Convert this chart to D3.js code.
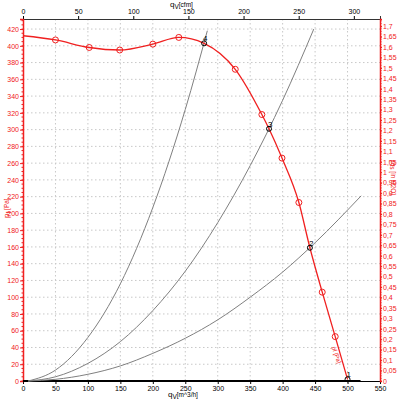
<!DOCTYPE html>
<html>
<head>
<meta charset="utf-8">
<script src="https://cdn.jsdelivr.net/npm/d3@7"></script>
<style>
  body { margin: 0; background: #fff; }
  text { font-family: "Liberation Sans", Arial, sans-serif; }
</style>
</head>
<body>
<div class="chart"></div>
<script>
"use strict"

// fan curve, q in m3/h, p in Pa
let fanQ = [0, 50, 102, 149, 200, 240, 279, 327, 368, 379, 399, 425, 442, 461, 481, 500];
let fanP = [412, 407, 398, 395, 402, 410, 403, 372, 318, 301, 266, 213, 159, 106, 53, 2];
// markers on the fan curve (red circles)
let markQ = [50, 102, 149, 200, 240, 327, 368, 399, 425, 461, 481];
let markP = [407, 398, 395, 402, 410, 372, 318, 266, 213, 106, 53];

// system curves (grey)
let sysAQ = [8, 50, 100, 150, 200, 250, 284];
let sysAP = [0, 13, 52, 116, 207, 324, 418];
let sysBQ = [8, 50, 100, 150, 200, 250, 300, 350, 400, 448];
let sysBP = [0, 5, 21, 47, 84, 131, 189, 257, 335, 420];
let sysCQ = [8, 50, 100, 150, 200, 250, 300, 350, 400, 450, 521];
let sysCP = [0, 2, 8, 18, 33, 51, 73, 100, 130, 165, 221];

// operating points
let opNames = ["1", "2", "3", "4"];
let opQ = [500, 442, 379, 279];
let opP = [2, 159, 301, 403];

let qTicks = [0, 50, 100, 150, 200, 250, 300, 350, 400, 450, 500, 550];
let cfmTicks = [0, 50, 100, 150, 200, 250, 300];
let paTicks = [0, 20, 40, 60, 80, 100, 120, 140, 160, 180, 200, 220, 240, 260, 280, 300, 320, 340, 360, 380, 400, 420];
let inTicks = [0, 0.05, 0.1, 0.15, 0.2, 0.25, 0.3, 0.35, 0.4, 0.45, 0.5, 0.55, 0.6, 0.65, 0.7, 0.75, 0.8, 0.85,
  0.9, 0.95, 1, 1.05, 1.1, 1.15, 1.2, 1.25, 1.3, 1.35, 1.4, 1.45, 1.5, 1.55, 1.6, 1.65, 1.7];

const RED = "#f02020";
let W = 400, H = 400;
let L = 23, R = 380, T = 19, B = 381;
let qMax = 550, pMax = 432;

let s = d3.select(".chart").append("svg")
  .attr("width", W).attr("height", H);

let x = d3.scaleLinear().domain([0, qMax]).range([L, R]);
let xc = d3.scaleLinear().domain([0, qMax * 0.588578]).range([L, R]);
let y = d3.scaleLinear().domain([0, pMax]).range([B, T]);
let yi = d3.scaleLinear().domain([0, pMax / 249.089]).range([B, T]);

// grid
s.append("g").selectAll("line")
  .data(qTicks.filter(d => d > 0 && d < qMax))
  .enter().append("line")
  .attr("x1", d => x(d)).attr("x2", d => x(d))
  .attr("y1", T).attr("y2", B)
  .attr("stroke", "#c8c8c8").attr("stroke-dasharray", "1.5,2.5");
s.append("g").selectAll("line")
  .data(paTicks.filter(d => d > 0))
  .enter().append("line")
  .attr("x1", L).attr("x2", R)
  .attr("y1", d => y(d)).attr("y2", d => y(d))
  .attr("stroke", "#c8c8c8").attr("stroke-dasharray", "1.5,2.5");

// bottom axis
let xa = s.append("g").attr("transform", "translate(0," + B + ")")
  .call(d3.axisBottom(x).tickValues(qTicks).tickSize(3).tickPadding(2));
xa.select(".domain").attr("stroke", "#000");
xa.selectAll("text").attr("font-size", 7).attr("fill", "#000");

// top axis
let ta = s.append("g").attr("transform", "translate(0," + T + ")")
  .call(d3.axisTop(xc).tickValues(cfmTicks).tickSize(3).tickPadding(2));
ta.select(".domain").attr("stroke", "#333");
ta.selectAll("text").attr("font-size", 7).attr("fill", "#000");

// left axis
let ya = s.append("g").attr("transform", "translate(" + L + ",0)")
  .call(d3.axisLeft(y).tickValues(paTicks).tickSize(3).tickPadding(1));
ya.select(".domain").attr("stroke", RED).attr("stroke-width", 1.5);
ya.selectAll("line").attr("stroke", RED);
ya.selectAll("text").attr("font-size", 7).attr("fill", RED);
s.append("g").selectAll("line")
  .data(d3.range(0, pMax, 5))
  .enter().append("line")
  .attr("x1", L - 1.5).attr("x2", L)
  .attr("y1", d => y(d)).attr("y2", d => y(d))
  .attr("stroke", RED);

// right axis
let ra = s.append("g").attr("transform", "translate(" + R + ",0)")
  .call(d3.axisRight(yi).tickValues(inTicks).tickSize(2).tickPadding(1)
    .tickFormat(d => d3.format("~g")(d).replace(".", ",")));
ra.select(".domain").attr("stroke", RED).attr("stroke-width", 1.5);
ra.selectAll("line").attr("stroke", RED);
ra.selectAll("text").attr("font-size", 7).attr("fill", RED);
s.append("g").selectAll("line")
  .data(d3.range(0, pMax / 249.089, 0.0125))
  .enter().append("line")
  .attr("x1", R).attr("x2", R + 1.5)
  .attr("y1", d => yi(d)).attr("y2", d => yi(d))
  .attr("stroke", RED);

// thick base line
s.append("line")
  .attr("x1", x(0)).attr("x2", x(520))
  .attr("y1", B).attr("y2", B)
  .attr("stroke", "#000").attr("stroke-width", 2);

// axis titles
function title(g, parts) {
  parts.forEach(function (p) {
    g.append("tspan").text(p[0])
      .attr("font-size", p[1] ? 6.5 : 8)
      .attr("dy", p[1] === 1 ? 1.5 : (p[1] === -1 ? -1.5 : 0));
  });
}
let t1 = s.append("text").attr("x", 170).attr("y", 7).attr("fill", "#000");
title(t1, [["q", 0], ["V", 1], ["[cfm]", -1]]);
let t2 = s.append("text").attr("x", 168).attr("y", 397).attr("fill", "#000");
title(t2, [["q", 0], ["V", 1], ["[m^3/h]", -1]]);
let t3 = s.append("text").attr("transform", "translate(9,218) rotate(-90)").attr("fill", RED);
title(t3, [["p", 0], ["f", 1], [" [Pa]", -1]]);
let t4 = s.append("text").attr("transform", "translate(391,160) rotate(90)").attr("fill", RED);
title(t4, [["p", 0], ["fs", 1], [" [in H2O]", -1]]);

// system curves
let line = d3.line().x(d => x(d[0])).y(d => y(d[1])).curve(d3.curveMonotoneX);
[[sysAQ, sysAP], [sysBQ, sysBP], [sysCQ, sysCP]].forEach(function (c) {
  s.append("path")
    .datum(c[0].map((q, i) => [q, c[1][i]]))
    .attr("d", line)
    .attr("fill", "none").attr("stroke", "#808080").attr("stroke-width", 1);
});

// fan curve
s.append("path")
  .datum(fanQ.map((q, i) => [q, fanP[i]]))
  .attr("d", line)
  .attr("fill", "none").attr("stroke", RED).attr("stroke-width", 1.3);

s.append("g").selectAll("circle")
  .data(markQ)
  .enter().append("circle")
  .attr("cx", d => x(d)).attr("cy", (d, i) => y(markP[i]))
  .attr("r", 3).attr("fill", "none").attr("stroke", RED);

// curve label
s.append("text")
  .attr("transform", "translate(" + (x(480) - 3) + "," + (y(40)) + ") rotate(70)")
  .attr("font-size", 6).attr("fill", RED).text("pf [Pa]");

// operating points
let op = s.append("g").selectAll("g")
  .data(opNames)
  .enter().append("g");
op.append("circle")
  .attr("cx", (d, i) => x(opQ[i])).attr("cy", (d, i) => y(opP[i]))
  .attr("r", 2.5).attr("fill", "none").attr("stroke", "#000").attr("stroke-width", 1);
op.append("text")
  .attr("x", (d, i) => x(opQ[i]) - 1).attr("y", (d, i) => y(opP[i]) - 2)
  .attr("font-size", 8).attr("fill", "#000")
  .text(d => d);
</script>
</body>
</html>
